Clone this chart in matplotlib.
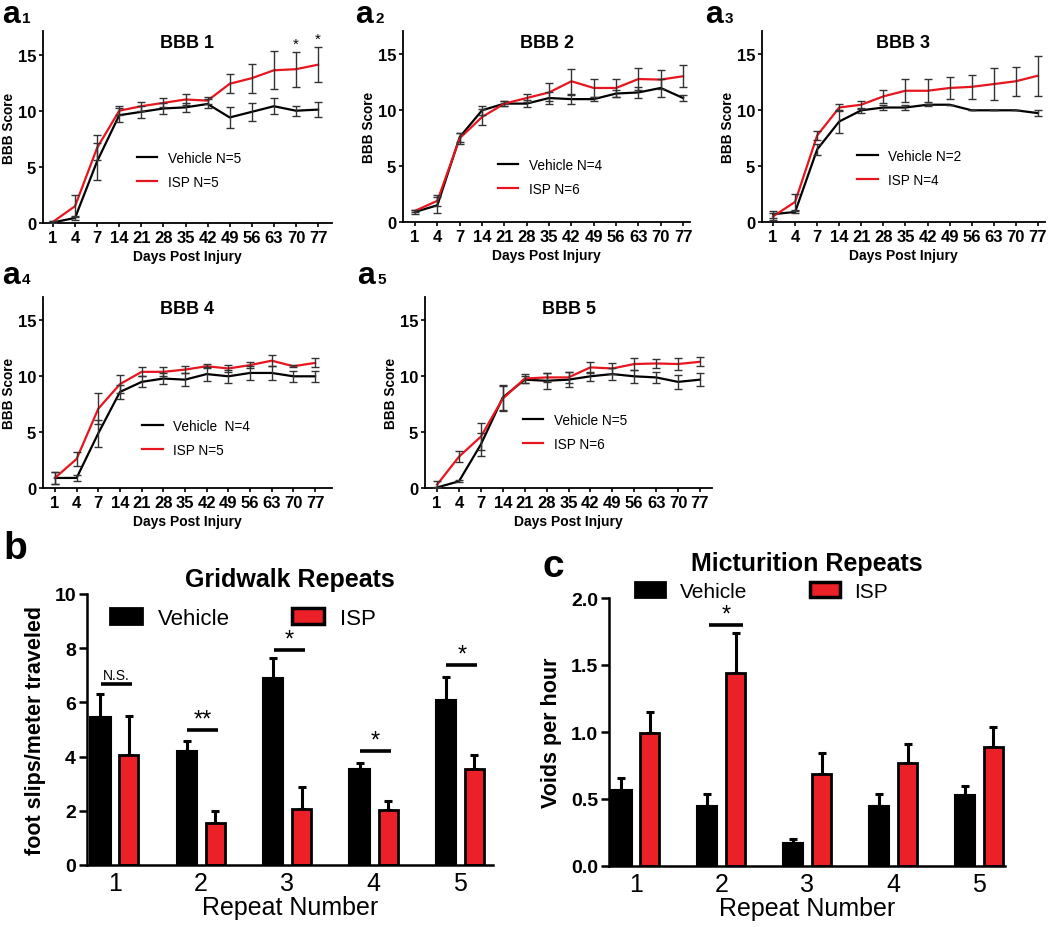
import numpy as np
import matplotlib
matplotlib.use('Agg')
import matplotlib.pyplot as plt
from matplotlib.patches import Patch

plt.rcParams['font.family'] = ['Liberation Sans', 'DejaVu Sans']

# BBB scores, days post injury (categorical axis)
days = ['1', '4', '7', '14', '21', '28', '35', '42', '49', '56', '63', '70', '77']

veh1 = [0.05, 0.45, 5.5, 9.6, 9.9, 10.2, 10.3, 10.6, 9.4, 9.9, 10.4, 10.0, 10.1]
veh1_err = [0.1, 0.2, 1.65, 0.6, 0.55, 0.5, 0.4, 0.4, 0.9, 0.8, 0.7, 0.45, 0.65]
isp1 = [0.1, 1.5, 6.7, 10.0, 10.4, 10.7, 11.0, 10.9, 12.4, 12.9, 13.6, 13.7, 14.1]
isp1_err = [0.1, 1.0, 1.1, 0.4, 0.4, 0.4, 0.5, 0.3, 0.85, 1.3, 1.7, 1.55, 1.55]

veh2 = [0.9, 1.5, 7.6, 10.0, 10.6, 10.6, 11.1, 11.0, 11.0, 11.5, 11.6, 12.0, 11.1]
veh2_err = [0.2, 0.7, 0.4, 0.4, 0.2, 0.3, 0.5, 0.4, 0.2, 0.3, 0.5, 0.8, 0.3]
isp2 = [1.0, 1.9, 7.5, 9.4, 10.6, 11.1, 11.6, 12.6, 12.0, 12.0, 12.8, 12.75, 13.05]
isp2_err = [0.1, 0.5, 0.5, 0.7, 0.2, 0.4, 0.8, 1.1, 0.8, 0.8, 1.0, 0.85, 1.0]

veh3 = [0.7, 0.9, 6.5, 9.0, 10.0, 10.25, 10.25, 10.5, 10.5, 10.0, 10.0, 10.0, 9.75]
veh3_err = [0.3, 0.1, 0.5, 1.0, 0.2, 0.25, 0.25, 0.1, 0.0, 0.0, 0.0, 0.0, 0.25]
isp3 = [0.5, 1.8, 7.75, 10.25, 10.5, 11.25, 11.75, 11.75, 12.0, 12.1, 12.35, 12.6, 13.1]
isp3_err = [0.3, 0.7, 0.4, 0.3, 0.35, 0.6, 1.05, 1.05, 1.0, 1.1, 1.4, 1.3, 1.8]

veh4 = [0.9, 0.9, 4.9, 8.6, 9.5, 9.8, 9.7, 10.2, 10.0, 10.3, 10.3, 10.0, 10.0]
veh4_err = [0.5, 0.3, 1.2, 0.6, 0.5, 0.5, 0.6, 0.6, 0.6, 0.6, 0.6, 0.5, 0.5]
isp4 = [0.9, 2.6, 7.1, 9.3, 10.4, 10.4, 10.6, 10.9, 10.7, 11.0, 11.4, 10.9, 11.2]
isp4_err = [0.5, 0.6, 1.4, 0.8, 0.4, 0.4, 0.3, 0.2, 0.3, 0.3, 0.5, 0.1, 0.4]

veh5 = [0.05, 0.6, 3.9, 8.1, 9.7, 9.6, 9.7, 10.0, 10.2, 10.0, 9.9, 9.5, 9.7]
veh5_err = [0.05, 0.1, 1.0, 1.1, 0.3, 0.7, 0.7, 0.4, 0.5, 0.6, 0.5, 0.6, 0.6]
isp5 = [0.3, 2.8, 4.6, 8.0, 9.8, 9.9, 9.9, 10.8, 10.7, 11.1, 11.15, 11.1, 11.3]
isp5_err = [0.3, 0.5, 1.2, 1.1, 0.4, 0.4, 0.5, 0.5, 0.5, 0.5, 0.4, 0.5, 0.4]

bbb_titles = ['BBB 1', 'BBB 2', 'BBB 3', 'BBB 4', 'BBB 5']
veh_labels = ['Vehicle N=5', 'Vehicle N=4', 'Vehicle N=2', 'Vehicle  N=4', 'Vehicle N=5']
isp_labels = ['ISP N=5', 'ISP N=6', 'ISP N=4', 'ISP N=5', 'ISP N=6']
bbb1_stars = ['', '', '', '', '', '', '', '', '', '', '', '*', '*']

# repeat experiments
repeats = ['1', '2', '3', '4', '5']
grid_veh = [5.45, 4.2, 6.9, 3.55, 6.1]
grid_veh_err = [0.85, 0.38, 0.73, 0.22, 0.85]
grid_isp = [4.05, 1.55, 2.07, 2.02, 3.55]
grid_isp_err = [1.45, 0.43, 0.8, 0.33, 0.5]
grid_sig = ['N.S.', '**', '*', '*', '*']
grid_sig_y = [6.67, 5.0, 7.94, 4.2, 7.38]

mict_veh = [0.57, 0.45, 0.17, 0.45, 0.53]
mict_veh_err = [0.09, 0.09, 0.03, 0.09, 0.07]
mict_isp = [0.99, 1.44, 0.69, 0.77, 0.89]
mict_isp_err = [0.16, 0.3, 0.15, 0.14, 0.15]
mict_sig = ['', '*', '', '', '']
mict_sig_y = [0, 1.8, 0, 0, 0]

RED_LINE = '#e8151f'
RED_BAR = '#ec2027'
W, H = 1050, 928

fig = plt.figure(figsize=(W / 100, H / 100), dpi=100)


def px_axes(l, t, r, b):
    return fig.add_axes([l / W, 1 - b / H, (r - l) / W, (b - t) / H])


def panel_label(x, y, letter, sub='', size=23):
    fig.text(x / W, 1 - y / H, letter, fontsize=size, fontweight='bold', va='baseline')
    if sub:
        fig.text((x + 20) / W, 1 - y / H, sub, fontsize=11, fontweight='bold', va='baseline')


line_boxes = [(43, 32, 332, 224), (403, 32, 690, 223), (762, 32, 1045, 223),
              (43, 298, 332, 489), (425, 298, 712, 489)]
xlims = [(-0.45, 12.63), (-0.54, 12.31), (-0.5, 12.32), (-0.55, 12.78), (-0.55, 12.55)]
leg_pos = [(0.325, 0.375), (0.331, 0.335), (0.336, 0.382), (0.343, 0.361), (0.341, 0.393)]
veh_all = [(veh1, veh1_err), (veh2, veh2_err), (veh3, veh3_err), (veh4, veh4_err), (veh5, veh5_err)]
isp_all = [(isp1, isp1_err), (isp2, isp2_err), (isp3, isp3_err), (isp4, isp4_err), (isp5, isp5_err)]

x = np.arange(len(days))
for i, box in enumerate(line_boxes):
    ax = px_axes(*box)
    v, ve = veh_all[i]
    s, se = isp_all[i]
    lv, = ax.plot(x, v, color='black', lw=1.6, zorder=2)
    ls, = ax.plot(x, s, color=RED_LINE, lw=1.6, zorder=2)
    ax.errorbar(x, v, yerr=ve, fmt='none', ecolor='#333333', elinewidth=1, capsize=3, capthick=1, zorder=3)
    ax.errorbar(x, s, yerr=se, fmt='none', ecolor='#333333', elinewidth=1, capsize=3, capthick=1, zorder=3)
    ax.set_xlim(*xlims[i])
    ax.set_ylim(0, 17.1)
    ax.set_xticks(x)
    ax.set_xticklabels(days)
    ax.set_yticks([0, 5, 10, 15])
    for sp in ['top', 'right']:
        ax.spines[sp].set_visible(False)
    for sp in ['left', 'bottom']:
        ax.spines[sp].set_linewidth(1.3)
    ax.tick_params(length=3, width=1.2, pad=2, labelsize=12)
    for lab in ax.get_xticklabels() + ax.get_yticklabels():
        lab.set_fontweight('bold')
    ax.set_xlabel('Days Post Injury', fontsize=10, fontweight='bold', labelpad=3)
    ax.set_ylabel('BBB Score', fontsize=9.8, fontweight='bold', labelpad=1)
    ax.text(0.5, 0.94, bbb_titles[i], transform=ax.transAxes, ha='center', va='center',
            fontsize=13, fontweight='bold')
    ax.legend([lv, ls], [veh_labels[i], isp_labels[i]], loc='upper left',
              bbox_to_anchor=leg_pos[i], frameon=False, borderaxespad=0, borderpad=0,
              fontsize=9.8, handlelength=1.5, handletextpad=0.8, labelspacing=0.75)
    if i == 0:
        for j, st in enumerate(bbb1_stars):
            if st:
                ax.text(j, s[j] + se[j] + 0.1, st, ha='center', va='bottom', fontsize=11)

panel_label(2, 23, 'a', '1')
panel_label(355, 23, 'a', '2')
panel_label(705, 23, 'a', '3')
panel_label(2, 284, 'a', '4')
panel_label(357, 284, 'a', '5')


def bar_panel(box, xlim, ylim, yticks, yfmt, veh, veh_err, isp, isp_err, sig, sig_y,
              sig_span, title, title_y, ylabel, leg_anchor, colsp, legsize):
    ax = px_axes(*box)
    xb = np.arange(1, len(repeats) + 1)
    ax.bar(xb - 0.165, veh, width=0.235, color='black', edgecolor='black', lw=1.5, zorder=2)
    ax.bar(xb + 0.165, isp, width=0.22, color=RED_BAR, edgecolor='black', lw=2, zorder=2)
    ax.errorbar(xb - 0.165, veh, yerr=[np.zeros(len(veh)), veh_err], fmt='none', ecolor='black',
                elinewidth=2.2, capsize=3, capthick=2.2, zorder=1)
    ax.errorbar(xb + 0.165, isp, yerr=[np.zeros(len(isp)), isp_err], fmt='none', ecolor='black',
                elinewidth=2.2, capsize=3, capthick=2.2, zorder=1)
    for j, lab in enumerate(sig):
        if not lab:
            continue
        ax.plot([xb[j] + sig_span[0], xb[j] + sig_span[1]], [sig_y[j], sig_y[j]], color='black',
                lw=2.6, solid_capstyle='butt')
        xc = xb[j] + (sig_span[0] + sig_span[1]) / 2
        if lab == 'N.S.':
            ax.text(xc, sig_y[j] + 0.08 * (ylim[1] / 10), lab, ha='center', va='bottom', fontsize=10)
        else:
            ax.text(xc, sig_y[j] - 0.02 * (ylim[1] / 10), lab, ha='center', va='bottom', fontsize=17)
    ax.set_xlim(*xlim)
    ax.set_ylim(*ylim)
    ax.set_xticks(xb)
    ax.set_xticklabels(repeats)
    ax.set_yticks(yticks)
    ax.set_yticklabels([yfmt.format(t) for t in yticks])
    for sp in ['top', 'right']:
        ax.spines[sp].set_visible(False)
    for sp in ['left', 'bottom']:
        ax.spines[sp].set_linewidth(1.8)
    ax.tick_params(axis='y', length=6, width=1.8, labelsize=14, pad=2)
    ax.tick_params(axis='x', length=0, labelsize=18, pad=4)
    for lab in ax.get_yticklabels():
        lab.set_fontweight('bold')
    ax.set_xlabel('Repeat Number', fontsize=18, labelpad=0)
    ax.set_ylabel(ylabel, fontsize=15.5, fontweight='bold', labelpad=6)
    fig.text((box[0] + box[2]) / 2 / W, 1 - title_y / H, title, ha='center', va='center',
             fontsize=18, fontweight='bold')
    handles = [Patch(facecolor='black', edgecolor='black', lw=2),
               Patch(facecolor=RED_BAR, edgecolor='black', lw=2.5)]
    ax.legend(handles, ['Vehicle', 'ISP'], ncol=2, loc='upper left', bbox_to_anchor=leg_anchor,
              frameon=False, borderaxespad=0, borderpad=0, fontsize=legsize, handlelength=1.45,
              handleheight=0.75, handletextpad=0.7, columnspacing=colsp)
    return ax


bar_panel((87, 595, 493, 866), (0.68, 5.38), (0, 10), [0, 2, 4, 6, 8, 10], '{:g}',
          grid_veh, grid_veh_err, grid_isp, grid_isp_err, grid_sig, grid_sig_y, (-0.16, 0.2),
          'Gridwalk Repeats', 580, 'foot slips/meter traveled', (0.057, 0.95), 2.8, 16)
bar_panel((609, 599, 1005, 867), (0.69, 5.30), (0, 2.0), [0.0, 0.5, 1.0, 1.5, 2.0], '{:.1f}',
          mict_veh, mict_veh_err, mict_isp, mict_isp_err, mict_sig, mict_sig_y, (-0.15, 0.25),
          'Micturition Repeats', 564, 'Voids per hour', (0.066, 1.06), 3.0, 15)

fig.text(3 / W, 1 - 559 / H, 'b', fontsize=28, fontweight='bold', va='baseline')
fig.text(542 / W, 1 - 577 / H, 'c', fontsize=28, fontweight='bold', va='baseline')

fig.savefig('out.png', dpi=100)
